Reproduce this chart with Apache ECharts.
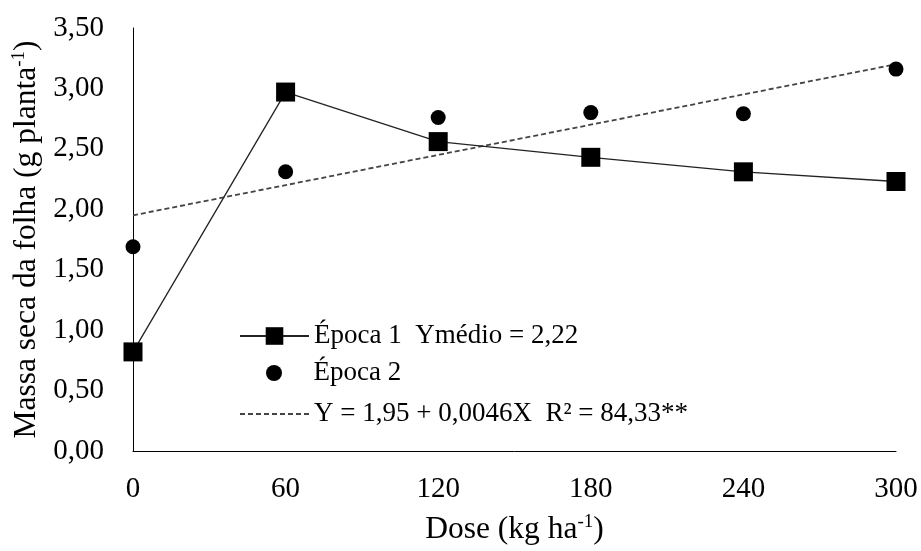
<!DOCTYPE html>
<html>
<head>
<meta charset="utf-8">
<script src="https://cdn.jsdelivr.net/npm/echarts@6/dist/echarts.min.js"></script>
<style>
  html, body { margin: 0; padding: 0; background: #fff; }
  #chart { width: 921px; height: 551px; }
</style>
</head>
<body>
<div id="chart"></div>
<script>
// Doses (kg ha-1) and leaf dry mass (g planta-1)
const doses = [0, 60, 120, 180, 240, 300];
const epoca1 = [0.82, 2.97, 2.56, 2.43, 2.31, 2.23];
const epoca2 = [1.69, 2.31, 2.76, 2.80, 2.79, 3.16];
// Fitted trend for Época 2, endpoints at dose 0 and 300
const trendX = [0, 300];
const trendY = [1.95, 3.20];
const xTicks = ['0', '60', '120', '180', '240', '300'];
const yTicks = ['0,00', '0,50', '1,00', '1,50', '2,00', '2,50', '3,00', '3,50'];
const seriesNames = ['Época 1  Ymédio = 2,22', 'Época 2', 'Y = 1,95 + 0,0046X  R² = 84,33**'];

const serif = '"Liberation Serif", "Times New Roman", serif';
const pair = (xs, ys) => xs.map((x, i) => [x, ys[i]]);

const titleRich = {
  m: { fontSize: 31.5, fontFamily: serif, color: '#000', lineHeight: 34 },
  s: { fontSize: 19, fontFamily: serif, color: '#000', verticalAlign: 'top', lineHeight: 34 }
};

const legendText = { fontSize: 27, fontFamily: serif, color: '#000', lineHeight: 30 };
const makeLegend = (name, left, top, itemHeight, extra) => ({
  orient: 'vertical', left: left, top: top, padding: 0,
  itemWidth: 69, itemHeight: itemHeight,
  textStyle: legendText,
  selectedMode: false,
  data: [Object.assign({ name: name }, extra || {})]
});

const chart = echarts.init(document.getElementById('chart'), null, { renderer: 'canvas' });
chart.setOption({
  animation: false,
  backgroundColor: '#fff',
  textStyle: { fontFamily: serif, color: '#000' },
  grid: { left: 133, right: 25, top: 28, bottom: 98, containLabel: false },
  xAxis: {
    type: 'value', min: 0, max: 300, interval: 60,
    axisLine: { show: true, lineStyle: { color: '#000', width: 1 } },
    axisTick: { show: false },
    splitLine: { show: false },
    axisLabel: {
      margin: 24, fontSize: 29, color: '#000', fontFamily: serif,
      formatter: (v) => xTicks[Math.round(v / 60)]
    },
    name: '{m|Dose (kg ha}{s|-1}{m|)}',
    nameLocation: 'middle', nameGap: 62,
    nameTextStyle: { rich: titleRich }
  },
  yAxis: {
    type: 'value', min: 0, max: 3.5, interval: 0.5,
    axisLine: { show: true, lineStyle: { color: '#000', width: 1 } },
    axisTick: { show: false },
    splitLine: { show: false },
    axisLabel: {
      margin: 29, fontSize: 29, color: '#000', fontFamily: serif,
      formatter: (v) => yTicks[Math.round(v / 0.5)]
    },
    name: '{m|Massa seca da folha (g planta}{s|-1}{m|)}',
    nameLocation: 'middle', nameGap: 86, nameRotate: 90,
    nameTextStyle: { rich: titleRich }
  },
  legend: [
    makeLegend(seriesNames[0], 239, 321, 22),
    makeLegend(seriesNames[1], 266, 358, 16),
    makeLegend(seriesNames[2], 239, 399, 16, { itemStyle: { opacity: 0 } })
  ],
  series: [
    {
      name: seriesNames[2],
      type: 'line', z: 1,
      data: pair(trendX, trendY),
      symbol: 'none',
      lineStyle: { color: '#444', width: 1.8, type: [5, 3] },
      itemStyle: { color: '#444' }
    },
    {
      name: seriesNames[0],
      type: 'line', z: 3, clip: false,
      data: pair(doses, epoca1),
      symbol: 'rect', symbolSize: 19,
      lineStyle: { color: '#222', width: 1.3 },
      itemStyle: { color: '#000', opacity: 1 }
    },
    {
      name: seriesNames[1],
      type: 'scatter', z: 4, clip: false,
      data: pair(doses, epoca2),
      symbol: 'circle', symbolSize: 15,
      itemStyle: { color: '#000', opacity: 1 }
    }
  ]
});
</script>
</body>
</html>
